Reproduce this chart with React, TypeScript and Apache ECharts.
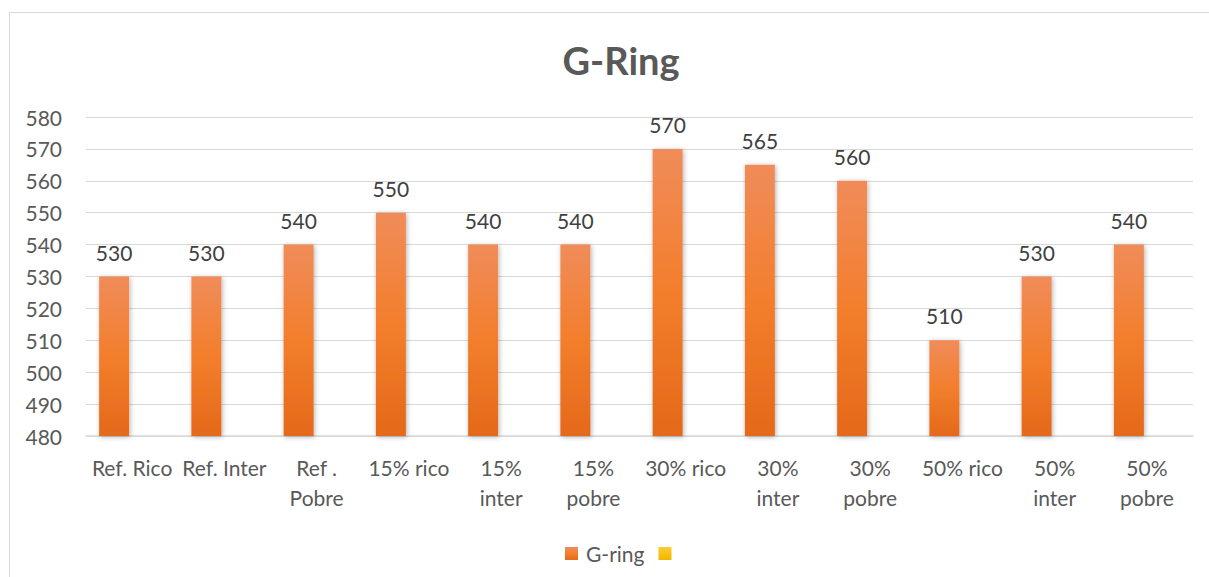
import React, { useEffect, useRef } from "react";
import * as echarts from "echarts";

const categories = [
  "Ref. Rico",
  "Ref. Inter",
  "Ref .\nPobre",
  "15% rico",
  "15%\ninter",
  "15%\npobre",
  "30% rico",
  "30%\ninter",
  "30%\npobre",
  "50% rico",
  "50%\ninter",
  "50%\npobre",
];
const gRing = [530, 530, 540, 550, 540, 540, 570, 565, 560, 510, 530, 540];
const emptySeries = categories.map(() => null);

const FONT = "Lato, 'Noto Sans', sans-serif";

export default function App() {
  const ref = useRef<HTMLDivElement>(null);
  useEffect(() => {
    if (!ref.current) return;
    const chart = echarts.init(ref.current, undefined, { renderer: "svg" });
    const orange = new echarts.graphic.LinearGradient(0, 0, 0, 1, [
      { offset: 0, color: "#F08C5A" },
      { offset: 0.5, color: "#F37E2C" },
      { offset: 1, color: "#E4691A" },
    ]);
    const yellow = new echarts.graphic.LinearGradient(0, 0, 0, 1, [
      { offset: 0, color: "#FFCB33" },
      { offset: 1, color: "#F2B600" },
    ]);
    chart.setOption({
      animation: false,
      backgroundColor: "#ffffff",
      textStyle: { fontFamily: FONT },
      title: {
        text: "G-Ring",
        left: 616,
        textAlign: "center",
        top: 36,
        textStyle: { fontFamily: FONT, fontSize: 38, fontWeight: "bold", color: "#595959" },
      },
      graphic: [
        {
          type: "rect",
          shape: { x: 9.5, y: 12.5, width: 1210, height: 580 },
          style: { fill: "none", stroke: "#D9D9D9", lineWidth: 1 },
          silent: true,
        },
      ],
      legend: {
        top: 538,
        left: 560,
        itemWidth: 13,
        itemHeight: 13,
        itemGap: 14,
        icon: "rect",
        textStyle: { fontFamily: FONT, fontSize: 21, color: "#595959", padding: [0, 0, 0, 3] },
        data: ["G-ring", " "],
      },
      grid: { left: 86, right: 16, top: 117, bottom: 141 },
      xAxis: {
        type: "category",
        data: categories,
        axisLine: { show: true, lineStyle: { color: "#D9D9D9", width: 1.5 } },
        axisTick: { show: false },
        axisLabel: {
          interval: 0,
          margin: 16,
          fontFamily: FONT,
          fontSize: 21,
          color: "#595959",
          lineHeight: 30,
        },
      },
      yAxis: {
        type: "value",
        min: 480,
        max: 580,
        interval: 10,
        axisLine: { show: false },
        axisTick: { show: false },
        splitLine: { lineStyle: { color: "#D9D9D9", width: 1 } },
        axisLabel: { margin: 24, fontFamily: FONT, fontSize: 21, color: "#595959" },
      },
      series: [
        {
          name: "G-ring",
          type: "bar",
          data: gRing,
          barWidth: 30,
          barGap: "20%",
          itemStyle: {
            color: orange,
            shadowBlur: 5,
            shadowColor: "rgba(0,0,0,0.3)",
            shadowOffsetX: 1,
            shadowOffsetY: 1,
          },
          label: {
            show: true,
            position: "top",
            distance: 14,
            fontFamily: FONT,
            fontSize: 21,
            color: "#404040",
          },
        },
        {
          name: " ",
          type: "bar",
          data: emptySeries,
          barWidth: 30,
          itemStyle: { color: yellow },
        },
      ],
    });
    return () => chart.dispose();
  }, []);
  return (
    <div
      ref={ref}
      style={{ position: "absolute", left: 0, top: 0, width: 1209, height: 577 }}
    />
  );
}
